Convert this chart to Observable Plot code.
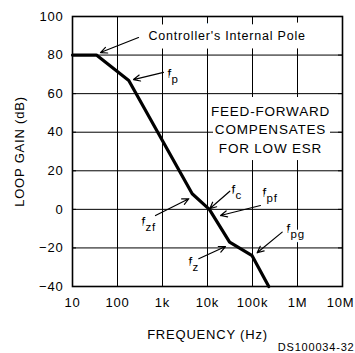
<!DOCTYPE html>
<html><head><meta charset="utf-8">
<script src="https://cdn.jsdelivr.net/npm/d3@7"></script>
<script src="https://cdn.jsdelivr.net/npm/@observablehq/plot@0.6"></script>
<style>
body{margin:0;background:#fff;}
#chart svg{display:block;}
</style>
</head><body><div id="chart"></div>
<script>
// Loop gain curve (frequency in Hz, gain in dB)
const freqHz = [10, 34, 178, 4570, 11000, 31000, 98000, 230000];
const gainDb = [80, 80, 66.8, 8.1, 0, -17, -24, -40];

// Axis ticks
const xTicks = [10, 100, 1e3, 1e4, 1e5, 1e6, 1e7];
const xTickLabels = ["10", "100", "1k", "10k", "100k", "1M", "10M"];
const yTicks = [-40, -20, 0, 20, 40, 60, 80, 100];

// Frequency labels (f + subscript), anchored at their left edge
const labelSub = ["p", "c", "pf", "pg", "z", "zf"];
const labelFreq = [1290, 34100, 167000, 570000, 3780, 341];
const labelDb = [70.4, 10.3, 8.7, -9.9, -27, -6.3];

// Arrows: tail (near label) -> head (on curve)
const arrowFromFreq = [293, 1052, 31300, 150000, 457000, 6400, 699];
const arrowFromDb = [89.1, 71, 9.4, 2.0, -11.8, -25.6, -3.2];
const arrowToFreq = [41.9, 227, 11200, 19500, 127000, 25100, 3850];
const arrowToDb = [81.3, 67.3, 0.3, -3.2, -22.5, -19.3, 5.5];

// Notes
const poleNote = ["Controller's Internal Pole"];
const poleNoteFreq = [489];
const poleNoteDb = [90.1];
const boxNote = ["FEED-FORWARD\nCOMPENSATES\nFOR LOW ESR"];
const boxNoteFreq = [251000];
const boxNoteDb = [42];
// white panel behind the boxed note (frequency and gain extents)
const boxFreq = [13600, 5410000];
const boxDb = [25.3, 58];
const caption = "DS100034-32";

const curve = freqHz.map((f, i) => ({f, g: gainDb[i]}));
const labels = labelSub.map((s, i) => ({s, f: labelFreq[i], g: labelDb[i]}));
const arrows = arrowFromFreq.map((f, i) => ({x1: f, y1: arrowFromDb[i], x2: arrowToFreq[i], y2: arrowToDb[i]}));
const poleData = poleNote.map((t, i) => ({t, f: poleNoteFreq[i], g: poleNoteDb[i]}));
const boxData = boxNote.map((t, i) => ({t, f: boxNoteFreq[i], g: boxNoteDb[i]}));
const panel = [{x1: boxFreq[0], x2: boxFreq[1], y1: boxDb[0], y2: boxDb[1]}];

const tickStep = 10 ** (4 / 45); // inward tick length on log axis
const font = "'Liberation Sans', Arial, sans-serif";
const fmt = d => xTickLabels[xTicks.indexOf(d)];

const plot = Plot.plot({
  width: 355,
  height: 353,
  marginLeft: 72,
  marginRight: 13,
  marginTop: 16,
  marginBottom: 67,
  style: {fontFamily: font, fontSize: "13px", background: "white", overflow: "visible", letterSpacing: "0.8px", color: "black"},
  x: {type: "log", domain: [10, 1e7]},
  y: {domain: [-40, 100]},
  marks: [
    Plot.axisX(xTicks.slice(0, 6), {tickFormat: fmt, tickSize: 0, tickPadding: 11,
      label: "FREQUENCY (Hz)", labelAnchor: "center", labelOffset: 52, labelArrow: "none"}),
    Plot.axisX(xTicks.slice(6), {tickFormat: fmt, tickSize: 0, tickPadding: 11, textAnchor: "end", dx: 12, label: null}),
    Plot.axisY(yTicks, {tickSize: 0, tickPadding: 9,
      label: "LOOP GAIN (dB)", labelAnchor: "center", labelOffset: 58, labelArrow: "none"}),
    Plot.ruleX(xTicks, {stroke: "black", strokeWidth: 1}),
    Plot.ruleY(yTicks, {stroke: "black", strokeWidth: 1}),
    // notes with white backgrounds
    Plot.rect(panel, {x1: "x1", x2: "x2", y1: "y1", y2: "y2", fill: "white"}),
    Plot.text(boxData, {x: "f", y: "g", text: "t", textAnchor: "middle", lineAnchor: "middle", lineHeight: 1.37,
      fontSize: 13.5, letterSpacing: "0.3px", fill: "black"}),
    Plot.text(poleData, {x: "f", y: "g", text: "t", textAnchor: "start", lineAnchor: "middle",
      fontSize: 12.5, letterSpacing: "0.45px", fill: "black", stroke: "white", strokeWidth: 17, paintOrder: "stroke"}),
    Plot.text(labels, {x: "f", y: "g", text: () => "f", textAnchor: "start", lineAnchor: "middle",
      fontSize: 13.5, fill: "black", stroke: "white", strokeWidth: 7, paintOrder: "stroke"}),
    Plot.text(labels, {x: "f", y: "g", text: "s", textAnchor: "start", lineAnchor: "middle", dx: 4, dy: 6,
      fontSize: 11.5, letterSpacing: "0.3px", fill: "black", stroke: "white", strokeWidth: 6, paintOrder: "stroke"}),
    // inward ticks on the frame
    Plot.ruleX(xTicks, {y1: 100, y2: 100 - 4 * 140 / 270, stroke: "black"}),
    Plot.ruleX(xTicks, {y1: -40, y2: -40 + 4 * 140 / 270, stroke: "black"}),
    Plot.ruleY(yTicks, {x1: 10, x2: 10 * tickStep, stroke: "black"}),
    Plot.ruleY(yTicks, {x1: 1e7 / tickStep, x2: 1e7, stroke: "black"}),
    Plot.frame({stroke: "black", strokeWidth: 1.6}),
    Plot.line(curve, {x: "f", y: "g", stroke: "black", strokeWidth: 3.2, strokeLinejoin: "round"}),
    Plot.arrow(arrows, {x1: "x1", y1: "y1", x2: "x2", y2: "y2", stroke: "black", strokeWidth: 1.2, headLength: 9, headAngle: 50}),
    Plot.text([caption], {frameAnchor: "bottom-right", text: d => d, textAnchor: "end", dx: 12, dy: 64,
      fontSize: 11, letterSpacing: "0px", fill: "black"})
  ]
});
document.getElementById("chart").appendChild(plot);
</script>
</body></html>
